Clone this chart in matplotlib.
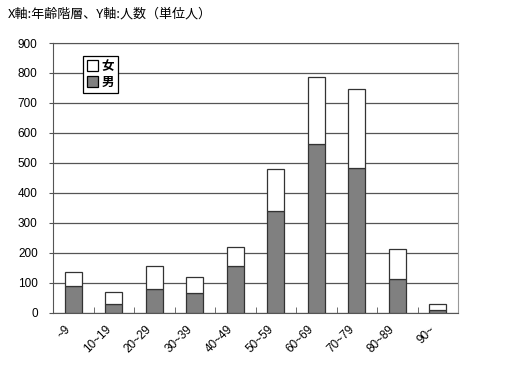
import matplotlib
matplotlib.use("Agg")
import matplotlib.pyplot as plt
import numpy as np

# age groups and counts
ages = ["~9", "10~19", "20~29", "30~39", "40~49", "50~59",
        "60~69", "70~79", "80~89", "90~"]
male = [87, 30, 78, 66, 154, 340, 563, 481, 112, 9]
female = [48, 38, 77, 52, 66, 140, 225, 264, 99, 19]
yticks = [0, 100, 200, 300, 400, 500, 600, 700, 800, 900]

cjk = ["Noto Sans CJK JP", "DejaVu Sans"]

fig = plt.figure(figsize=(5.2, 3.67), dpi=100)
ax = fig.add_axes([53 / 520, 1 - 312.5 / 367, 405 / 520, (312.5 - 43) / 367])

x = np.arange(len(ages))
w = 0.42
ax.bar(x, male, width=w, color="#808080", edgecolor="#333333", linewidth=0.9,
       label="男", zorder=3)
ax.bar(x, female, width=w, bottom=male, color="white", edgecolor="#333333",
       linewidth=0.9, label="女", zorder=3)

ax.set_xlim(-0.5, len(ages) - 0.5)
ax.set_ylim(0, 900)
ax.set_yticks(yticks)
ax.set_yticklabels([str(v) for v in yticks], family="Liberation Sans", fontsize=8.5)
ax.yaxis.grid(True, color="#555555", linewidth=0.9, zorder=0)
ax.set_axisbelow(True)

# category labels under bars, boundary ticks pointing inward
ax.set_xticks(x)
ax.set_xticklabels(ages, rotation=45, ha="right", va="top",
                   family="Liberation Sans", fontsize=8.5)
ax.tick_params(axis="x", which="major", length=0, pad=8)
ax.set_xticks(np.arange(len(ages) + 1) - 0.5, minor=True)
ax.tick_params(axis="x", which="minor", direction="in", length=4,
               color="#555555")
ax.tick_params(axis="y", length=3, color="#555555", pad=8)

for s in ["left", "bottom", "top"]:
    ax.spines[s].set_color("#555555")
ax.spines["right"].set_color("#999999")

h, l = ax.get_legend_handles_labels()
leg = ax.legend(h[::-1], l[::-1], loc="upper left",
                bbox_to_anchor=(83 / 520, 1 - 56 / 367),
                bbox_transform=fig.transFigure,
                prop={"family": cjk, "size": 9, "weight": "bold"},
                handlelength=0.9, handleheight=0.9, handletextpad=0.3,
                borderpad=0.3, labelspacing=0.25, borderaxespad=0,
                fancybox=False, framealpha=1, edgecolor="black")
leg.get_frame().set_linewidth(0.9)
for p in leg.get_patches():
    p.set_edgecolor("black")

fig.text(8 / 520, 1 - 8 / 367, "X軸:年齢階層、Y軸:人数（単位人）",
         family=cjk, fontsize=9.4, va="top", ha="left")

fig.savefig("out.png", dpi=100, facecolor="white")
